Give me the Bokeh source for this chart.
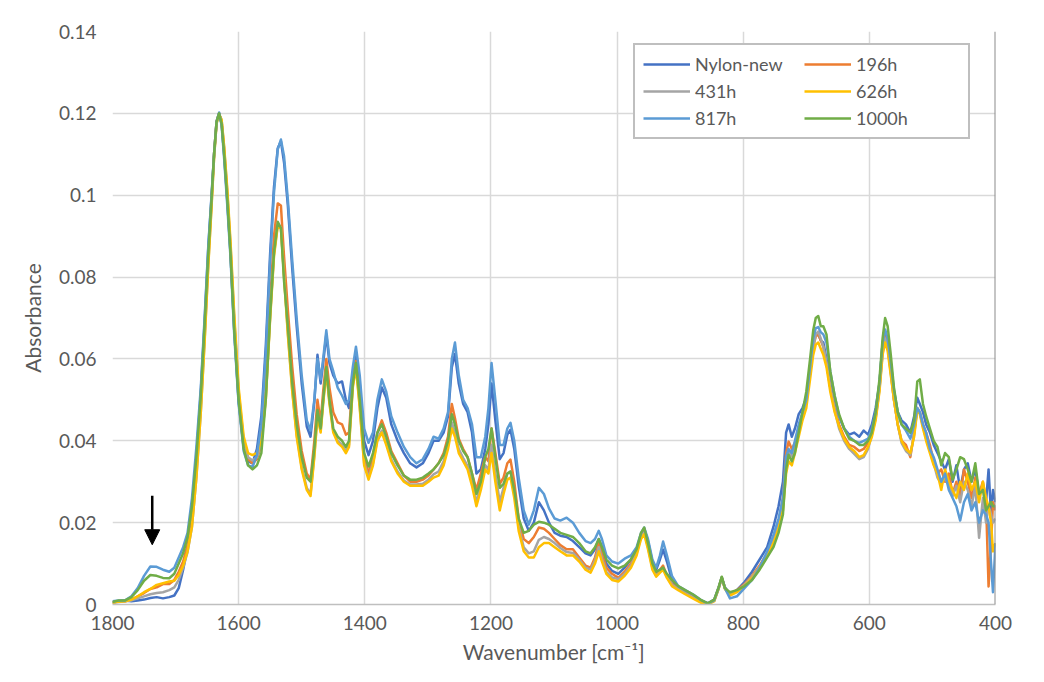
from bokeh.plotting import figure
from bokeh.models import (Range1d, FixedTicker, NumeralTickFormatter, Legend, LegendItem,
                          Arrow, NormalHead, Span)
from bokeh.embed import file_html
from bokeh.resources import INLINE

series_names = ["Nylon-new", "196h", "431h", "626h", "817h", "1000h"]
series_colors = ["#4472C4", "#ED7D31", "#A5A5A5", "#FFC000", "#5B9BD5", "#70AD47"]

x_ticks = [1800, 1600, 1400, 1200, 1000, 800, 600, 400]
y_ticks = [0, 0.02, 0.04, 0.06, 0.08, 0.1, 0.12, 0.14]

arrow_wn = 1737
arrow_top = 0.0266
arrow_tip = 0.0146

wavenumber = [
    1800, 1790, 1780, 1770, 1760, 1750, 1740, 1730, 1720, 1710,
    1702, 1695, 1688, 1681, 1674, 1667, 1660, 1654, 1648, 1643,
    1639, 1635, 1631, 1627, 1623, 1618, 1613, 1607, 1600, 1592,
    1585, 1578, 1571, 1564, 1557, 1550, 1544, 1538, 1533, 1528,
    1522, 1515, 1508, 1500, 1492, 1486, 1480, 1475, 1470, 1466,
    1461, 1456, 1450, 1443, 1436, 1430, 1425, 1419, 1414, 1408,
    1401, 1394, 1387, 1380, 1373, 1366, 1358, 1348, 1338, 1328,
    1318, 1308, 1299, 1291, 1283, 1275, 1268, 1262, 1257, 1251,
    1244, 1237, 1230, 1223, 1216, 1209, 1204, 1199, 1193, 1186,
    1180, 1174, 1169, 1163, 1156, 1148, 1140, 1132, 1124, 1116,
    1108, 1099, 1090, 1080, 1070, 1060, 1050, 1042, 1035, 1029,
    1024, 1017, 1008, 998, 988, 978, 969, 962, 957, 951,
    944, 938, 932, 927, 921, 913, 903, 892, 880, 868,
    856, 846, 839, 834, 829, 821, 810, 798, 786, 774,
    762, 752, 744, 737, 732, 728, 723, 718, 712, 706,
    700, 694, 689, 685, 681, 677, 673, 668, 662, 655,
    648, 640, 632, 624, 616, 609, 602, 596, 590, 584,
    579, 575, 571, 566, 561, 555, 549, 542, 535, 529,
    524, 520, 515, 510, 504, 498, 492, 486, 480, 474,
    468, 462, 456, 450, 444, 438, 432, 426, 420, 415,
    411, 407, 404, 400,
]

nylon_new = [
    0.0005, 0.0008, 0.0010, 0.0008, 0.0010, 0.0012, 0.0016, 0.0018, 0.0015, 0.0018,
    0.0022, 0.0040, 0.0085, 0.0140, 0.0230, 0.0360, 0.0520, 0.0690, 0.0875, 0.0995,
    0.1100, 0.1180, 0.1200, 0.1175, 0.1100, 0.0985, 0.0860, 0.0670, 0.0495, 0.0385,
    0.0350, 0.0345, 0.0380, 0.0460, 0.0630, 0.0860, 0.1020, 0.1115, 0.1132, 0.1080,
    0.0975, 0.0820, 0.0680, 0.0540, 0.0435, 0.0410, 0.0495, 0.0610, 0.0540, 0.0590,
    0.0660, 0.0590, 0.0560, 0.0540, 0.0545, 0.0500, 0.0480, 0.0560, 0.0610, 0.0540,
    0.0400, 0.0365, 0.0400, 0.0480, 0.0530, 0.0505, 0.0440, 0.0400, 0.0370, 0.0345,
    0.0335, 0.0345, 0.0370, 0.0400, 0.0400, 0.0420, 0.0460, 0.0580, 0.0612, 0.0540,
    0.0490, 0.0470, 0.0420, 0.0320, 0.0330, 0.0380, 0.0440, 0.0540, 0.0450, 0.0355,
    0.0370, 0.0415, 0.0427, 0.0380, 0.0290, 0.0210, 0.0180, 0.0200, 0.0250, 0.0230,
    0.0200, 0.0175, 0.0168, 0.0165, 0.0155, 0.0140, 0.0125, 0.0120, 0.0135, 0.0160,
    0.0140, 0.0100, 0.0082, 0.0075, 0.0090, 0.0110, 0.0135, 0.0170, 0.0185, 0.0155,
    0.0105, 0.0085, 0.0110, 0.0134, 0.0105, 0.0060, 0.0040, 0.0030, 0.0020, 0.0010,
    0.0003, 0.0012, 0.0042, 0.0066, 0.0042, 0.0025, 0.0035, 0.0055, 0.0080, 0.0110,
    0.0140, 0.0190, 0.0240, 0.0300, 0.0420, 0.0440, 0.0410, 0.0430, 0.0465, 0.0480,
    0.0505, 0.0580, 0.0640, 0.0660, 0.0662, 0.0645, 0.0640, 0.0600, 0.0540, 0.0500,
    0.0460, 0.0430, 0.0415, 0.0420, 0.0410, 0.0425, 0.0415, 0.0440, 0.0480, 0.0540,
    0.0640, 0.0660, 0.0640, 0.0580, 0.0520, 0.0470, 0.0450, 0.0440, 0.0420, 0.0460,
    0.0505, 0.0490, 0.0470, 0.0440, 0.0420, 0.0390, 0.0370, 0.0350, 0.0330, 0.0355,
    0.0300, 0.0340, 0.0280, 0.0330, 0.0345, 0.0300, 0.0330, 0.0270, 0.0290, 0.0250,
    0.0330, 0.0220, 0.0280, 0.0250,
]

h196 = [
    0.0005, 0.0008, 0.0008, 0.0012, 0.0020, 0.0028, 0.0038, 0.0042, 0.0050, 0.0050,
    0.0060, 0.0080, 0.0105, 0.0145, 0.0210, 0.0330, 0.0490, 0.0660, 0.0850, 0.0985,
    0.1100, 0.1180, 0.1200, 0.1180, 0.1110, 0.1000, 0.0870, 0.0690, 0.0510, 0.0395,
    0.0355, 0.0345, 0.0355, 0.0390, 0.0520, 0.0740, 0.0900, 0.0980, 0.0975, 0.0850,
    0.0720, 0.0580, 0.0465, 0.0375, 0.0320, 0.0305, 0.0400, 0.0500, 0.0445, 0.0520,
    0.0600, 0.0530, 0.0470, 0.0445, 0.0440, 0.0415, 0.0420, 0.0550, 0.0595, 0.0500,
    0.0360, 0.0320, 0.0360, 0.0420, 0.0450, 0.0420, 0.0375, 0.0345, 0.0315, 0.0300,
    0.0300, 0.0305, 0.0315, 0.0330, 0.0345, 0.0370, 0.0410, 0.0490, 0.0455, 0.0405,
    0.0380, 0.0360, 0.0320, 0.0280, 0.0320, 0.0360, 0.0350, 0.0430, 0.0370, 0.0295,
    0.0310, 0.0345, 0.0354, 0.0300, 0.0210, 0.0160, 0.0150, 0.0165, 0.0188, 0.0185,
    0.0175, 0.0160, 0.0145, 0.0135, 0.0135, 0.0115, 0.0095, 0.0090, 0.0115, 0.0150,
    0.0125, 0.0090, 0.0075, 0.0065, 0.0080, 0.0100, 0.0130, 0.0170, 0.0182, 0.0145,
    0.0095, 0.0075, 0.0085, 0.0095, 0.0070, 0.0050, 0.0040, 0.0030, 0.0020, 0.0008,
    0.0002, 0.0010, 0.0040, 0.0066, 0.0040, 0.0025, 0.0035, 0.0050, 0.0070, 0.0095,
    0.0125, 0.0160, 0.0200, 0.0260, 0.0370, 0.0398, 0.0380, 0.0395, 0.0430, 0.0465,
    0.0500, 0.0570, 0.0630, 0.0655, 0.0660, 0.0645, 0.0630, 0.0590, 0.0530, 0.0480,
    0.0440, 0.0410, 0.0390, 0.0385, 0.0375, 0.0380, 0.0395, 0.0420, 0.0460, 0.0530,
    0.0620, 0.0655, 0.0630, 0.0570, 0.0500, 0.0440, 0.0400, 0.0390, 0.0360, 0.0420,
    0.0480, 0.0470, 0.0440, 0.0420, 0.0390, 0.0350, 0.0320, 0.0330, 0.0300, 0.0320,
    0.0270, 0.0300, 0.0260, 0.0330, 0.0300, 0.0260, 0.0310, 0.0270, 0.0300, 0.0250,
    0.0044, 0.0150, 0.0250, 0.0230,
]

h431 = [
    0.0004, 0.0006, 0.0008, 0.0010, 0.0015, 0.0020, 0.0025, 0.0028, 0.0030, 0.0035,
    0.0042, 0.0060, 0.0090, 0.0128, 0.0190, 0.0310, 0.0470, 0.0645, 0.0835, 0.0975,
    0.1092, 0.1176, 0.1198, 0.1183, 0.1115, 0.1008, 0.0880, 0.0700, 0.0520, 0.0400,
    0.0360, 0.0352, 0.0360, 0.0395, 0.0505, 0.0705, 0.0855, 0.0928, 0.0922, 0.0805,
    0.0665, 0.0525, 0.0415, 0.0335, 0.0285, 0.0270, 0.0365, 0.0465, 0.0425, 0.0495,
    0.0575, 0.0495, 0.0425, 0.0400, 0.0390, 0.0375, 0.0390, 0.0535, 0.0583, 0.0485,
    0.0345, 0.0310, 0.0345, 0.0405, 0.0425, 0.0395, 0.0355, 0.0325, 0.0303, 0.0293,
    0.0293, 0.0295, 0.0305, 0.0318, 0.0325, 0.0350, 0.0392, 0.0445, 0.0420, 0.0380,
    0.0358, 0.0338, 0.0298, 0.0250, 0.0290, 0.0340, 0.0330, 0.0390, 0.0320, 0.0250,
    0.0285, 0.0320, 0.0325, 0.0275, 0.0190, 0.0140, 0.0125, 0.0130, 0.0158, 0.0165,
    0.0160, 0.0150, 0.0138, 0.0128, 0.0126, 0.0110, 0.0090, 0.0085, 0.0108, 0.0140,
    0.0112, 0.0080, 0.0066, 0.0062, 0.0075, 0.0095, 0.0125, 0.0165, 0.0176, 0.0140,
    0.0090, 0.0070, 0.0080, 0.0088, 0.0068, 0.0048, 0.0038, 0.0028, 0.0018, 0.0007,
    0.0001, 0.0009, 0.0039, 0.0066, 0.0039, 0.0024, 0.0032, 0.0048, 0.0068, 0.0092,
    0.0122, 0.0155, 0.0192, 0.0245, 0.0345, 0.0375, 0.0362, 0.0385, 0.0425, 0.0460,
    0.0495, 0.0565, 0.0628, 0.0660, 0.0667, 0.0650, 0.0630, 0.0590, 0.0530, 0.0475,
    0.0430, 0.0400, 0.0380, 0.0368, 0.0355, 0.0360, 0.0380, 0.0415, 0.0455, 0.0525,
    0.0615, 0.0650, 0.0628, 0.0565, 0.0500, 0.0440, 0.0395, 0.0375, 0.0365, 0.0415,
    0.0480, 0.0470, 0.0435, 0.0405, 0.0375, 0.0345, 0.0310, 0.0295, 0.0310, 0.0290,
    0.0265, 0.0290, 0.0250, 0.0300, 0.0280, 0.0240, 0.0290, 0.0163, 0.0260, 0.0200,
    0.0240, 0.0220, 0.0200, 0.0210,
]

h626 = [
    0.0004, 0.0007, 0.0008, 0.0012, 0.0020, 0.0030, 0.0038, 0.0048, 0.0052, 0.0056,
    0.0058, 0.0072, 0.0095, 0.0130, 0.0190, 0.0310, 0.0470, 0.0640, 0.0830, 0.0970,
    0.1090, 0.1175, 0.1198, 0.1185, 0.1120, 0.1015, 0.0890, 0.0710, 0.0530, 0.0410,
    0.0370, 0.0365, 0.0370, 0.0400, 0.0500, 0.0700, 0.0850, 0.0925, 0.0920, 0.0800,
    0.0660, 0.0520, 0.0410, 0.0330, 0.0280, 0.0265, 0.0360, 0.0460, 0.0420, 0.0490,
    0.0570, 0.0490, 0.0420, 0.0395, 0.0385, 0.0370, 0.0385, 0.0530, 0.0580, 0.0480,
    0.0340, 0.0305, 0.0340, 0.0400, 0.0420, 0.0390, 0.0350, 0.0320, 0.0300, 0.0290,
    0.0290, 0.0290, 0.0300, 0.0310, 0.0315, 0.0340, 0.0380, 0.0430, 0.0410, 0.0370,
    0.0350, 0.0330, 0.0290, 0.0240, 0.0280, 0.0330, 0.0320, 0.0370, 0.0300, 0.0230,
    0.0270, 0.0305, 0.0310, 0.0260, 0.0180, 0.0130, 0.0115, 0.0115, 0.0140, 0.0150,
    0.0150, 0.0140, 0.0130, 0.0120, 0.0120, 0.0105, 0.0085, 0.0078, 0.0100, 0.0130,
    0.0105, 0.0075, 0.0060, 0.0056, 0.0070, 0.0090, 0.0120, 0.0160, 0.0172, 0.0135,
    0.0085, 0.0068, 0.0078, 0.0085, 0.0065, 0.0045, 0.0035, 0.0025, 0.0015, 0.0005,
    0.0000, 0.0008, 0.0038, 0.0065, 0.0038, 0.0022, 0.0030, 0.0045, 0.0065, 0.0090,
    0.0120, 0.0150, 0.0185, 0.0230, 0.0320, 0.0350, 0.0340, 0.0370, 0.0410, 0.0450,
    0.0480, 0.0550, 0.0610, 0.0635, 0.0640, 0.0625, 0.0610, 0.0580, 0.0520, 0.0470,
    0.0435, 0.0405, 0.0385, 0.0375, 0.0360, 0.0365, 0.0385, 0.0410, 0.0450, 0.0520,
    0.0610, 0.0640, 0.0620, 0.0560, 0.0500, 0.0440, 0.0400, 0.0380, 0.0370, 0.0410,
    0.0475, 0.0465, 0.0430, 0.0400, 0.0370, 0.0340, 0.0320, 0.0280, 0.0330, 0.0300,
    0.0280, 0.0260, 0.0300, 0.0280, 0.0320, 0.0280, 0.0300, 0.0250, 0.0300, 0.0260,
    0.0240, 0.0200, 0.0130, 0.0150,
]

h817 = [
    0.0008, 0.0010, 0.0010, 0.0020, 0.0040, 0.0070, 0.0093, 0.0092, 0.0085, 0.0080,
    0.0090, 0.0115, 0.0140, 0.0175, 0.0260, 0.0385, 0.0530, 0.0700, 0.0880, 0.1000,
    0.1100, 0.1180, 0.1202, 0.1170, 0.1090, 0.0975, 0.0850, 0.0660, 0.0490, 0.0375,
    0.0340, 0.0336, 0.0365, 0.0440, 0.0610, 0.0840, 0.1005, 0.1112, 0.1136, 0.1095,
    0.0990, 0.0840, 0.0700, 0.0560, 0.0450, 0.0425, 0.0500, 0.0600, 0.0550, 0.0600,
    0.0670, 0.0600, 0.0570, 0.0530, 0.0510, 0.0490, 0.0500, 0.0580, 0.0630, 0.0560,
    0.0430, 0.0395, 0.0420, 0.0500, 0.0550, 0.0520, 0.0460, 0.0420, 0.0385, 0.0360,
    0.0345, 0.0355, 0.0380, 0.0410, 0.0405, 0.0430, 0.0470, 0.0600, 0.0640, 0.0560,
    0.0500, 0.0480, 0.0440, 0.0360, 0.0360, 0.0410, 0.0480, 0.0590, 0.0500, 0.0390,
    0.0390, 0.0430, 0.0444, 0.0400, 0.0310, 0.0230, 0.0195, 0.0230, 0.0285, 0.0270,
    0.0235, 0.0210, 0.0205, 0.0212, 0.0200, 0.0175, 0.0155, 0.0150, 0.0160, 0.0180,
    0.0160, 0.0120, 0.0105, 0.0100, 0.0112, 0.0120, 0.0140, 0.0175, 0.0188, 0.0160,
    0.0110, 0.0090, 0.0120, 0.0154, 0.0120, 0.0070, 0.0045, 0.0035, 0.0025, 0.0012,
    0.0002, 0.0010, 0.0040, 0.0066, 0.0040, 0.0015, 0.0020, 0.0040, 0.0060, 0.0090,
    0.0130, 0.0170, 0.0210, 0.0260, 0.0360, 0.0380, 0.0370, 0.0400, 0.0440, 0.0470,
    0.0500, 0.0580, 0.0650, 0.0675, 0.0678, 0.0665, 0.0660, 0.0640, 0.0570, 0.0510,
    0.0460, 0.0430, 0.0410, 0.0400, 0.0395, 0.0400, 0.0405, 0.0430, 0.0470, 0.0540,
    0.0640, 0.0672, 0.0650, 0.0590, 0.0525, 0.0470, 0.0440, 0.0425, 0.0405, 0.0440,
    0.0480, 0.0470, 0.0440, 0.0420, 0.0380, 0.0360, 0.0330, 0.0300, 0.0320, 0.0280,
    0.0260, 0.0240, 0.0205, 0.0250, 0.0270, 0.0230, 0.0250, 0.0200, 0.0230, 0.0220,
    0.0200, 0.0100, 0.0030, 0.0150,
]

h1000 = [
    0.0006, 0.0010, 0.0010, 0.0018, 0.0035, 0.0058, 0.0072, 0.0070, 0.0065, 0.0064,
    0.0075, 0.0100, 0.0125, 0.0165, 0.0240, 0.0360, 0.0510, 0.0680, 0.0860, 0.0990,
    0.1100, 0.1180, 0.1200, 0.1175, 0.1100, 0.0990, 0.0860, 0.0670, 0.0500, 0.0380,
    0.0340, 0.0330, 0.0340, 0.0370, 0.0500, 0.0710, 0.0860, 0.0935, 0.0920, 0.0790,
    0.0680, 0.0540, 0.0440, 0.0360, 0.0310, 0.0300, 0.0380, 0.0475, 0.0430, 0.0500,
    0.0580, 0.0500, 0.0430, 0.0410, 0.0400, 0.0385, 0.0400, 0.0540, 0.0590, 0.0500,
    0.0370, 0.0337, 0.0370, 0.0420, 0.0440, 0.0410, 0.0370, 0.0340, 0.0315, 0.0305,
    0.0305, 0.0310, 0.0320, 0.0330, 0.0345, 0.0365, 0.0400, 0.0465, 0.0440, 0.0400,
    0.0375, 0.0360, 0.0320, 0.0270, 0.0300, 0.0360, 0.0380, 0.0430, 0.0360, 0.0285,
    0.0295, 0.0320, 0.0325, 0.0280, 0.0210, 0.0175, 0.0180, 0.0195, 0.0202, 0.0200,
    0.0195, 0.0185, 0.0175, 0.0170, 0.0165, 0.0150, 0.0130, 0.0125, 0.0140, 0.0160,
    0.0140, 0.0110, 0.0095, 0.0088, 0.0095, 0.0110, 0.0135, 0.0175, 0.0188, 0.0150,
    0.0100, 0.0080, 0.0085, 0.0090, 0.0075, 0.0060, 0.0045, 0.0035, 0.0025, 0.0012,
    0.0003, 0.0012, 0.0042, 0.0068, 0.0040, 0.0030, 0.0035, 0.0045, 0.0060, 0.0085,
    0.0115, 0.0140, 0.0175, 0.0220, 0.0330, 0.0366, 0.0350, 0.0370, 0.0420, 0.0470,
    0.0520, 0.0600, 0.0670, 0.0700, 0.0705, 0.0680, 0.0680, 0.0660, 0.0570, 0.0510,
    0.0465, 0.0430, 0.0405, 0.0400, 0.0390, 0.0390, 0.0400, 0.0420, 0.0470, 0.0550,
    0.0650, 0.0700, 0.0680, 0.0610, 0.0530, 0.0470, 0.0440, 0.0430, 0.0420, 0.0450,
    0.0545, 0.0550, 0.0490, 0.0460, 0.0430, 0.0400, 0.0385, 0.0340, 0.0370, 0.0360,
    0.0305, 0.0330, 0.0360, 0.0355, 0.0330, 0.0300, 0.0345, 0.0270, 0.0280, 0.0230,
    0.0240, 0.0250, 0.0240, 0.0240,
]

series_values = [nylon_new, h196, h431, h626, h817, h1000]

TEXT = "#595959"
FONT = "Lato"

p = figure(width=1028, height=666, output_backend="svg", toolbar_location=None,
           x_range=Range1d(1800, 400), y_range=Range1d(0, 0.14),
           min_border_left=112, min_border_right=33, min_border_top=31, min_border_bottom=61)
p.background_fill_color = "white"
p.border_fill_color = "white"
p.outline_line_color = None

p.xaxis.ticker = FixedTicker(ticks=x_ticks)
p.yaxis.ticker = FixedTicker(ticks=y_ticks)
p.xgrid.ticker = FixedTicker(ticks=x_ticks)
p.ygrid.ticker = FixedTicker(ticks=y_ticks)
p.yaxis.formatter = NumeralTickFormatter(format="0.[00]")
for g in (p.xgrid, p.ygrid):
    g.grid_line_color = "#d9d9d9"
    g.grid_line_width = 1.5

for ax in (p.xaxis, p.yaxis):
    ax.major_tick_line_color = None
    ax.minor_tick_line_color = None
    ax.major_tick_in = 0
    ax.major_tick_out = 0
    ax.major_label_text_color = TEXT
    ax.major_label_text_font = FONT
    ax.major_label_text_font_size = "19px"
    ax.axis_label_text_color = TEXT
    ax.axis_label_text_font = FONT
    ax.axis_label_text_font_size = "21px"
    ax.axis_label_text_font_style = "normal"
p.xaxis.axis_line_color = "#bfbfbf"
p.xaxis.axis_line_width = 1.5
p.yaxis.axis_line_color = None
p.xaxis.major_label_standoff = 11
p.yaxis.major_label_standoff = 16
p.xaxis.axis_label_standoff = 6
p.yaxis.axis_label_standoff = 11
p.xaxis.axis_label = "Wavenumber [cm\u207b\u00b9]"
p.yaxis.axis_label = "Absorbance"

p.add_layout(Span(location=400, dimension="height", line_color="#8c8c8c", line_width=2))

items = []
for name, color, vals in zip(series_names, series_colors, series_values):
    r = p.line(wavenumber, vals, line_color=color, line_width=2.5, line_join="round")
    items.append(LegendItem(label=name, renderers=[r]))

legend = Legend(items=items, orientation="horizontal", ncols=2, location=(521, 465),
                padding=8, spacing=5, margin=0, glyph_width=47, glyph_height=20,
                label_height=20, label_width=104, label_standoff=5,
                label_text_font=FONT, label_text_font_size="18px", label_text_color=TEXT,
                border_line_color="#7f7f7f", border_line_width=2,
                background_fill_color="white", background_fill_alpha=1.0)
p.add_layout(legend)

p.add_layout(Arrow(end=NormalHead(size=15, fill_color="black", line_color="black"),
                   x_start=arrow_wn, y_start=arrow_top, x_end=arrow_wn, y_end=arrow_tip,
                   line_color="black", line_width=2.5))

open("out.html", "w").write(file_html(p, INLINE))
